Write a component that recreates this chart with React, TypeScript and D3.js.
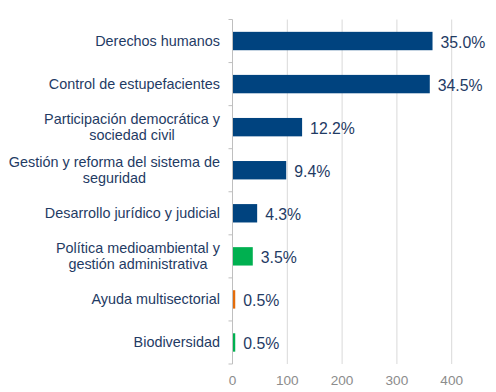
import React, { useRef, useEffect } from "react";
import * as d3 from "d3";

// category labels (line breaks as in the picture)
const categories: string[][] = [
  ["Derechos humanos"],
  ["Control de estupefacientes"],
  ["Participación democrática y", "sociedad civil"],
  ["Gestión y reforma del sistema de", "seguridad"],
  ["Desarrollo jurídico y judicial"],
  ["Política medioambiental y", "gestión administrativa"],
  ["Ayuda multisectorial"],
  ["Biodiversidad"],
];
const values = [365, 360, 127, 98, 45, 37, 5, 5];
const shares = ["35.0%", "34.5%", "12.2%", "9.4%", "4.3%", "3.5%", "0.5%", "0.5%"];
const barColors = ["#00437F", "#00437F", "#00437F", "#00437F", "#00437F", "#00B050", "#E46C0A", "#00B050"];
const xTicks = [0, 100, 200, 300, 400];

export default function App() {
  const chartRef = useRef<SVGSVGElement>(null);

  useEffect(() => {
    if (!chartRef.current) return;
    const svg = d3.select(chartRef.current);
    svg.selectAll("*").remove();

    const width = 496;
    const height = 392;
    const left = 232.5;
    const top = 19.5;
    const bottom = 364;
    const labelFont = "'Liberation Sans', Arial, sans-serif";
    const textColor = "#1F3B64";

    const x = d3.scaleLinear().domain([0, 500]).range([left, left + 5 * 54.8]);
    const y = d3
      .scaleBand<number>()
      .domain(d3.range(values.length))
      .range([top, bottom])
      .paddingInner(0.573)
      .paddingOuter(0.2865);

    svg.attr("width", width).attr("height", height);

    // gridlines
    svg.append("g")
      .selectAll("line")
      .data(xTicks.filter((t) => t > 0))
      .join("line")
      .attr("x1", (d) => x(d))
      .attr("x2", (d) => x(d))
      .attr("y1", top)
      .attr("y2", bottom)
      .attr("stroke", "#D9D9D9")
      .attr("stroke-width", 1);

    // x tick labels
    svg.append("g")
      .selectAll("text")
      .data(xTicks)
      .join("text")
      .attr("x", (d) => x(d))
      .attr("y", 385)
      .attr("text-anchor", "middle")
      .attr("font-family", labelFont)
      .attr("font-size", 13.6)
      .attr("fill", "#8C8C8C")
      .text((d) => d);

    // bars
    svg.append("g")
      .selectAll("rect")
      .data(values)
      .join("rect")
      .attr("x", x(0))
      .attr("y", (_, i) => y(i)!)
      .attr("width", (d) => x(d) - x(0))
      .attr("height", y.bandwidth())
      .attr("fill", (_, i) => barColors[i]);

    // y axis line + ticks at band boundaries
    const step = y.step();
    const boundaries = d3.range(values.length + 1).map((i) => top + i * step);
    const axis = svg.append("g").attr("stroke", "#BFBFBF").attr("stroke-width", 1);
    axis.append("line")
      .attr("x1", left).attr("x2", left)
      .attr("y1", top).attr("y2", bottom);
    axis.selectAll("line.tick")
      .data(boundaries)
      .join("line")
      .attr("class", "tick")
      .attr("x1", left - 4).attr("x2", left)
      .attr("y1", (d) => d).attr("y2", (d) => d);

    // value labels
    svg.append("g")
      .selectAll("text")
      .data(values)
      .join("text")
      .attr("x", (d) => x(d) + 8)
      .attr("y", (_, i) => y(i)! + y.bandwidth() / 2 + 7)
      .attr("font-family", labelFont)
      .attr("font-size", 15.8)
      .attr("fill", textColor)
      .text((_, i) => shares[i]);

    // category labels: block right-aligned, lines centered within it
    const lineH = 16;
    categories.forEach((lines, i) => {
      const cy = y(i)! + y.bandwidth() / 2;
      const g = svg.append("g");
      const texts = lines.map((ln, j) =>
        g.append("text")
          .attr("y", cy + 4.8 + (j - (lines.length - 1) / 2) * lineH)
          .attr("text-anchor", "middle")
          .attr("font-family", labelFont)
          .attr("font-size", 14.4)
          .attr("fill", textColor)
          .text(ln)
      );
      const maxW = d3.max(texts, (t) => (t.node() as SVGTextElement).getComputedTextLength()) || 0;
      texts.forEach((t) => t.attr("x", 220 - maxW / 2));
    });
  }, []);

  return <svg ref={chartRef} style={{ position: "absolute", left: 0, top: 0 }} />;
}
